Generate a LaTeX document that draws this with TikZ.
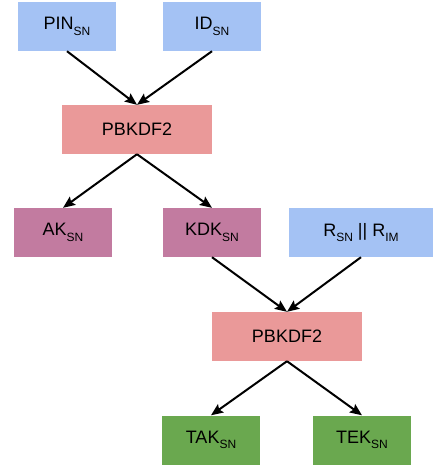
\documentclass[tikz,border=0pt]{standalone}
\usepackage{fontspec}
\setmainfont{Liberation Sans}
\usetikzlibrary{arrows.meta}
\definecolor{inblue}{HTML}{A4C2F4}
\definecolor{kdfred}{HTML}{EA9999}
\definecolor{keyplum}{HTML}{C27BA0}
\definecolor{outgreen}{HTML}{6AA84F}
\newcommand{\sn}[1]{\raisebox{-5.5pt}{\fontsize{12}{12}\selectfont #1}}
\begin{document}
\begin{tikzpicture}[x=1pt,y=-1pt,
  every node/.style={font=\fontsize{18}{20}\selectfont,inner sep=0pt},
  keybox/.style={minimum width=98pt,minimum height=49pt},
  kdfbox/.style={fill=kdfred,minimum width=150pt,minimum height=49pt},
  flow/.style={line width=2pt,-{Stealth[length=12pt,width=10pt,inset=2pt]}}]
\useasboundingbox (0,0) rectangle (434,466);
% inputs
\node[keybox,fill=inblue] (pin) at (67,26.5) {PIN\sn{SN}};
\node[keybox,fill=inblue] (id) at (212,26.5) {ID\sn{SN}};
\node[kdfbox] (kdfa) at (137,129.5) {PBKDF2};
\draw[flow] (pin.south) -- (kdfa.north);
\draw[flow] (id.south) -- (kdfa.north);
% derived keys
\node[keybox,fill=keyplum] (ak) at (63,232.5) {AK\sn{SN}};
\node[keybox,fill=keyplum] (kdk) at (212,232.5) {KDK\sn{SN}};
\node[keybox,fill=inblue,minimum width=144pt] (rnd) at (361,232.5) {R\sn{SN} || R\sn{IM}};
\draw[flow] (kdfa.south) -- (ak.north);
\draw[flow] (kdfa.south) -- (kdk.north);
% second round
\node[kdfbox] (kdfb) at (287,336.5) {PBKDF2};
\draw[flow] (kdk.south) -- (kdfb.north);
\draw[flow] (rnd.south) -- (kdfb.north);
\node[keybox,fill=outgreen] (tak) at (211,440) {TAK\sn{SN}};
\node[keybox,fill=outgreen] (tek) at (362,440) {TEK\sn{SN}};
\draw[flow] (kdfb.south) -- (tak.north);
\draw[flow] (kdfb.south) -- (tek.north);
\end{tikzpicture}
\end{document}
